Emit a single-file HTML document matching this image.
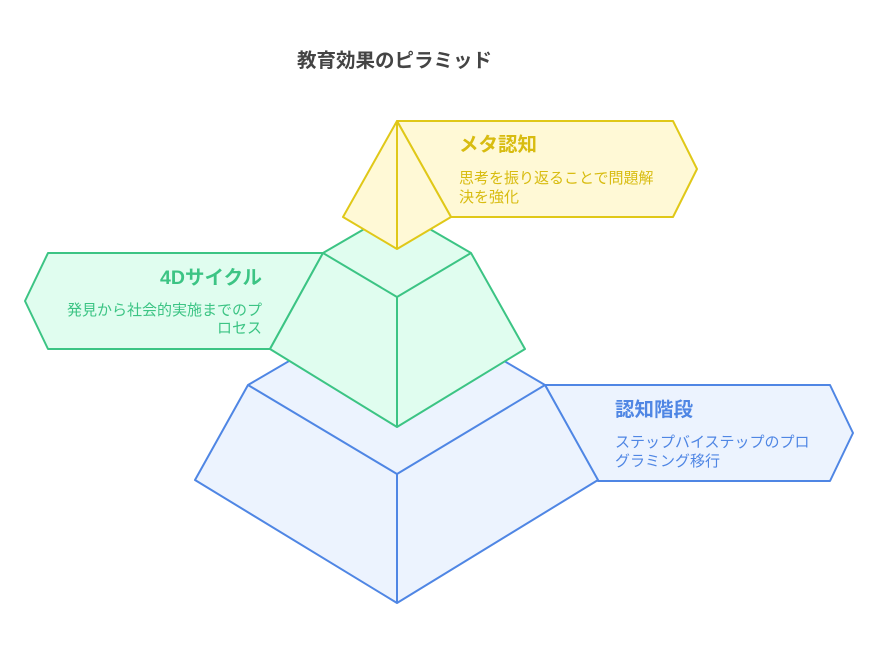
<!DOCTYPE html>
<html><head><meta charset="utf-8"><style>
html,body{margin:0;padding:0;background:#fff;}
svg text{font-family:"Liberation Sans","Noto Sans CJK JP",sans-serif;}
</style></head><body>
<svg width="878" height="653" viewBox="0 0 878 653" xmlns="http://www.w3.org/2000/svg">
<text x="297" y="67" font-size="19.5" font-weight="bold" fill="#444">教育効果のピラミッド</text>

<!-- blue -->
<g fill="#ecf3fe" stroke="#4f86e4" stroke-width="2" stroke-linejoin="round">
<polygon points="545,385 830,385 853,433 830,481 598,481"/>
<polygon points="248,385 397,298 545,385 598,480 397,603 195,480"/>
<polyline fill="none" points="248,385 397,474 545,385"/>
<line x1="397" y1="474" x2="397" y2="603"/>
</g>
<text x="615" y="416" font-size="19.5" font-weight="bold" fill="#4f86e4">認知階段</text>
<text font-size="15" fill="#4f86e4"><tspan x="615" y="447">ステップバイステップのプロ</tspan><tspan x="615" y="466">グラミング移行</tspan></text>

<!-- green -->
<g fill="#e0fdef" stroke="#3cc484" stroke-width="2" stroke-linejoin="round">
<polygon points="323,253 48,253 25,301 48,349 270,349"/>
<polygon points="323,253 397,210 471,253 525,349 397,427 270,349"/>
<polyline fill="none" points="323,253 397,297 471,253"/>
<line x1="397" y1="297" x2="397" y2="427"/>
</g>
<text x="262" y="284" font-size="19.5" font-weight="bold" fill="#3cc484" text-anchor="end">4Dサイクル</text>
<text font-size="15" fill="#3cc484" text-anchor="end"><tspan x="262" y="315">発見から社会的実施までのプ</tspan><tspan x="262" y="333">ロセス</tspan></text>

<!-- yellow -->
<g fill="#fff9d6" stroke="#e0c818" stroke-width="2" stroke-linejoin="round">
<polygon points="397,121 673,121 697,169 673,217 451,217"/>
<polygon points="397,121 451,217 397,249 343,217"/>
<line x1="397" y1="121" x2="397" y2="249"/>
</g>
<text x="459" y="151" font-size="19.5" font-weight="bold" fill="#d8bc10">メタ認知</text>
<text font-size="15" fill="#d8bc10"><tspan x="459" y="183">思考を振り返ることで問題解</tspan><tspan x="459" y="202">決を強化</tspan></text>
</svg>
</body></html>
